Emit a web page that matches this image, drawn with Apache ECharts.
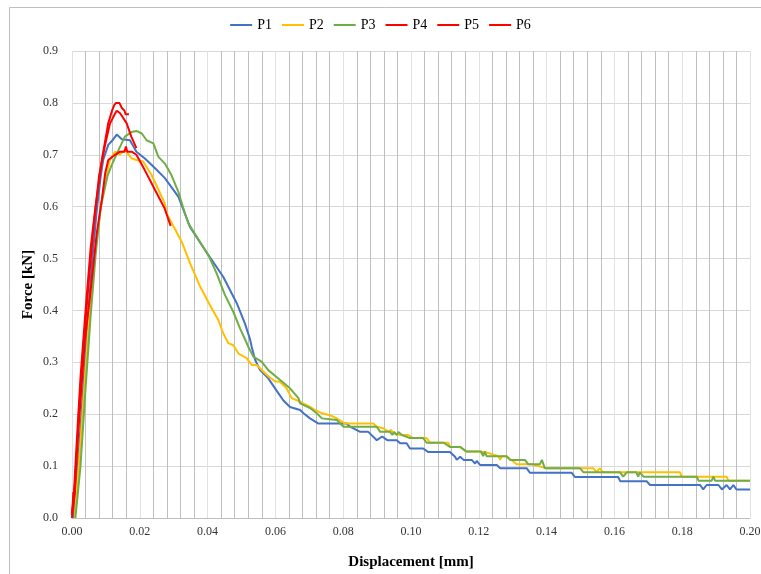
<!DOCTYPE html>
<html>
<head>
<meta charset="utf-8">
<script src="https://cdn.jsdelivr.net/npm/echarts@6/dist/echarts.min.js"></script>
<style>
  html, body { margin: 0; padding: 0; background: #fff; }
  #chart { width: 761px; height: 574px; }
</style>
</head>
<body>
<div id="chart"></div>
<script>
// series names and colours
var names = ['P1', 'P2', 'P3', 'P4', 'P5', 'P6'];
var colors = ['#4472C4', '#FFC000', '#70AD47', '#FF0000', '#FF0000', '#FF0000'];

// [displacement mm, force kN]
var p1 = [[0.0005,0],[0.0015,0.08],[0.003,0.22],[0.0045,0.37],[0.006,0.5],[0.0073,0.593],[0.0085,0.66],[0.0092,0.69],[0.0107,0.719],[0.0122,0.73],[0.0132,0.739],[0.0147,0.73],[0.0171,0.728],[0.019,0.706],[0.0215,0.693],[0.0245,0.674],[0.0274,0.655],[0.0314,0.619],[0.0348,0.561],[0.0402,0.507],[0.0446,0.465],[0.0486,0.414],[0.051,0.375],[0.0525,0.345],[0.053,0.33],[0.054,0.305],[0.0555,0.285],[0.0579,0.269],[0.0604,0.245],[0.0623,0.227],[0.0643,0.214],[0.0673,0.208],[0.0683,0.202],[0.0702,0.192],[0.0727,0.182],[0.081,0.182],[0.082,0.176],[0.085,0.166],[0.0874,0.166],[0.0899,0.15],[0.0915,0.157],[0.093,0.15],[0.0958,0.15],[0.0968,0.144],[0.0987,0.144],[0.0997,0.134],[0.1036,0.134],[0.1051,0.127],[0.1115,0.127],[0.113,0.118],[0.1135,0.112],[0.1145,0.118],[0.1155,0.112],[0.1179,0.112],[0.1189,0.105],[0.1194,0.11],[0.1204,0.102],[0.1253,0.102],[0.1263,0.096],[0.1341,0.096],[0.1351,0.087],[0.1474,0.087],[0.1484,0.079],[0.1611,0.079],[0.1617,0.071],[0.1695,0.071],[0.1705,0.0636],[0.1853,0.0636],[0.1862,0.055],[0.1872,0.0636],[0.1907,0.0636],[0.1917,0.055],[0.1931,0.0636],[0.1941,0.055],[0.1951,0.0636],[0.196,0.055],[0.2,0.055]];

var p2 = [[0.0008,0],[0.002,0.1],[0.0035,0.24],[0.005,0.38],[0.007,0.52],[0.0085,0.6],[0.0097,0.651],[0.0112,0.69],[0.0127,0.706],[0.014,0.7],[0.0156,0.709],[0.0176,0.693],[0.019,0.69],[0.021,0.687],[0.0235,0.661],[0.0274,0.606],[0.0279,0.587],[0.0324,0.532],[0.0348,0.491],[0.0378,0.446],[0.0407,0.41],[0.0432,0.381],[0.0446,0.356],[0.0461,0.337],[0.0476,0.333],[0.0491,0.317],[0.0515,0.308],[0.053,0.295],[0.0545,0.295],[0.0574,0.276],[0.0599,0.263],[0.0613,0.263],[0.0633,0.25],[0.0648,0.231],[0.0673,0.224],[0.0702,0.214],[0.0717,0.208],[0.0737,0.202],[0.0761,0.198],[0.0781,0.192],[0.0796,0.186],[0.0805,0.182],[0.0889,0.182],[0.0899,0.176],[0.0918,0.173],[0.0935,0.166],[0.094,0.17],[0.095,0.163],[0.0968,0.16],[0.099,0.16],[0.1007,0.154],[0.1046,0.154],[0.1056,0.145],[0.111,0.145],[0.1115,0.137],[0.1145,0.137],[0.1162,0.128],[0.1204,0.128],[0.121,0.123],[0.1215,0.128],[0.1258,0.119],[0.1263,0.112],[0.1268,0.119],[0.1282,0.119],[0.1312,0.1035],[0.1356,0.1035],[0.14,0.0957],[0.1538,0.0957],[0.1547,0.089],[0.1557,0.0957],[0.1567,0.088],[0.1794,0.088],[0.1798,0.0796],[0.1931,0.0796],[0.1936,0.072],[0.2,0.072]];

var p3 = [[0.001,0],[0.0025,0.1],[0.004,0.25],[0.0055,0.39],[0.007,0.51],[0.0085,0.6],[0.0105,0.66],[0.0117,0.68],[0.0137,0.709],[0.0156,0.735],[0.0176,0.744],[0.019,0.746],[0.0206,0.741],[0.022,0.728],[0.024,0.722],[0.0255,0.696],[0.0274,0.683],[0.0294,0.66],[0.0314,0.628],[0.0328,0.598],[0.0343,0.568],[0.0368,0.542],[0.0402,0.507],[0.0427,0.471],[0.0451,0.43],[0.0476,0.397],[0.0496,0.365],[0.051,0.345],[0.052,0.33],[0.0535,0.311],[0.056,0.301],[0.0579,0.285],[0.0614,0.266],[0.0643,0.25],[0.0668,0.231],[0.0673,0.221],[0.0702,0.212],[0.0722,0.202],[0.0737,0.192],[0.0781,0.189],[0.0801,0.176],[0.0899,0.176],[0.0909,0.166],[0.0938,0.166],[0.0945,0.16],[0.095,0.166],[0.0958,0.16],[0.0963,0.166],[0.0973,0.16],[0.0997,0.154],[0.1036,0.154],[0.1046,0.145],[0.1096,0.145],[0.1115,0.137],[0.1145,0.137],[0.1164,0.128],[0.1208,0.128],[0.1213,0.119],[0.1218,0.128],[0.1223,0.119],[0.1282,0.119],[0.1292,0.112],[0.1336,0.112],[0.1346,0.1035],[0.138,0.1035],[0.1386,0.112],[0.1395,0.0957],[0.1499,0.0957],[0.1509,0.088],[0.1617,0.088],[0.1626,0.0796],[0.1636,0.088],[0.1665,0.088],[0.167,0.0796],[0.1675,0.088],[0.1686,0.0796],[0.1843,0.0796],[0.1848,0.072],[0.1887,0.072],[0.1892,0.0796],[0.1897,0.072],[0.2,0.072]];

var p4 = [[0,0],[0.0004,0.05],[0.0002,0.02],[0.0006,0.04],[0.0019,0.17],[0.0038,0.343],[0.0053,0.426],[0.0073,0.549],[0.0088,0.613],[0.0098,0.665],[0.0107,0.69],[0.0127,0.7],[0.0142,0.706],[0.0155,0.706],[0.0159,0.716],[0.0163,0.706],[0.0176,0.706],[0.019,0.7],[0.0215,0.67],[0.0245,0.632],[0.0273,0.597],[0.0291,0.563]];

var p5 = [[0,0.01],[0.0005,0.04],[0.001,0.1],[0.0025,0.27],[0.004,0.4],[0.0055,0.52],[0.0068,0.593],[0.0088,0.69],[0.0107,0.761],[0.0118,0.785],[0.0125,0.796],[0.013,0.8],[0.014,0.8],[0.0147,0.79],[0.0155,0.785],[0.0158,0.778],[0.0168,0.778]];

var p6 = [[0,0.005],[0.0008,0.05],[0.002,0.2],[0.0035,0.34],[0.005,0.46],[0.0065,0.57],[0.008,0.66],[0.0098,0.72],[0.0112,0.76],[0.0125,0.777],[0.0132,0.785],[0.0142,0.78],[0.0161,0.761],[0.0175,0.735],[0.019,0.713]];

var allData = [p1, p2, p3, p4, p5, p6];

var myChart = echarts.init(document.getElementById('chart'));
var font = 'Liberation Serif';

var series = [];
for (var i = 0; i < names.length; i++) {
  series.push({
    name: names[i],
    type: 'line',
    data: allData[i],
    symbol: 'none',
    lineStyle: { color: colors[i], width: 2 },
    itemStyle: { color: colors[i] }
  });
}

var option = {
  animation: false,
  backgroundColor: '#fff',
  textStyle: { fontFamily: font },
  graphic: [{
    type: 'rect',
    shape: { x: 9.5, y: 7.5, width: 760, height: 600 },
    style: { fill: 'none', stroke: '#bfbfbf', lineWidth: 1 },
    silent: true
  }],
  legend: {
    top: 13,
    left: 'center',
    icon: 'rect',
    itemWidth: 22,
    itemHeight: 2,
    itemGap: 10,
    textStyle: { fontFamily: font, fontSize: 14, color: '#000' },
    data: names
  },
  grid: { left: 72, right: 11, top: 51, bottom: 56, outerBoundsMode: 'none' },
  xAxis: {
    type: 'value',
    min: 0, max: 0.2, interval: 0.02,
    name: 'Displacement [mm]',
    nameLocation: 'middle',
    nameGap: 37,
    nameMoveOverlap: false,
    nameTextStyle: { fontFamily: font, fontSize: 15, fontWeight: 'bold', color: '#000' },
    axisLine: { show: true, lineStyle: { color: '#bfbfbf' } },
    axisTick: { show: false },
    axisLabel: {
      fontFamily: font, fontSize: 12, color: '#333', margin: 8,
      formatter: function (v) { return v.toFixed(2); }
    },
    splitLine: { show: true, lineStyle: { color: '#e2e2e2', width: 1 } },
    minorTick: { show: false, splitNumber: 5 },
    minorSplitLine: { show: true, lineStyle: { color: '#bfbfbf', width: 1 } }
  },
  yAxis: {
    type: 'value',
    min: 0, max: 0.9, interval: 0.1,
    name: 'Force [kN]',
    nameLocation: 'middle',
    nameGap: 36,
    nameMoveOverlap: false,
    nameTextStyle: { fontFamily: font, fontSize: 15, fontWeight: 'bold', color: '#000' },
    axisLine: { show: false },
    axisTick: { show: false },
    axisLabel: {
      fontFamily: font, fontSize: 12, color: '#333', margin: 14,
      formatter: function (v) { return v.toFixed(1); }
    },
    splitLine: { show: true, lineStyle: { color: '#d9d9d9', width: 1 } }
  },
  series: series
};

myChart.setOption(option);
</script>
</body>
</html>
